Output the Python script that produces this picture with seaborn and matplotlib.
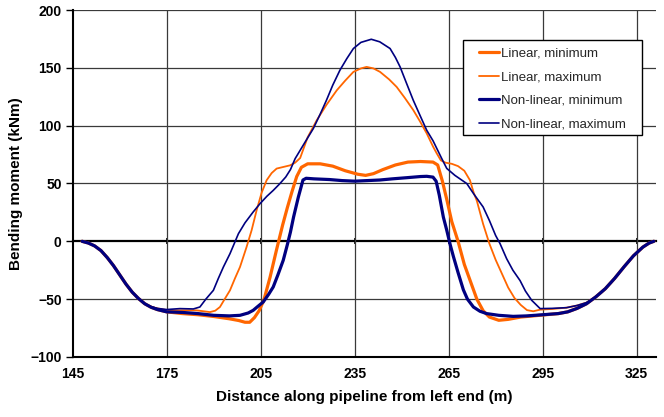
import matplotlib
matplotlib.use("Agg")
import matplotlib.pyplot as plt
from matplotlib.patches import Rectangle
import seaborn as sns

# ---------------- data ----------------
lin_min_x = [148, 150, 152, 154, 156, 158, 160, 162, 164, 166, 168, 170, 172, 175, 180, 185, 190, 195, 198, 200,
             201.5, 203, 204.5, 206, 208, 210, 211, 212, 213.5, 215, 216.5, 218, 220, 224, 228, 232, 236, 238.5, 241, 244,
             248, 252, 256, 260, 261.5, 263, 264.5, 266, 268, 270, 272, 274, 276, 278, 281, 284, 288, 292, 296, 300,
             303, 306, 309, 312, 315, 318, 321, 324, 327, 329, 330.5]
lin_min_y = [0, -1.5, -4, -8, -14, -21, -29, -37, -44, -49.5, -54, -57, -59, -61, -62.5, -63.5, -65, -67, -68.5, -70,
             -70, -66, -60, -51, -31, -8, 3, 14, 29, 43, 56, 64, 67, 67, 65, 61, 58, 57, 58.5, 62,
             66, 68.5, 69, 68.5, 66, 52, 35, 17, 0, -20, -35, -50, -60, -65.5, -68.3, -67.5, -65.5, -64.5, -63.5, -62.5,
             -61, -58, -54, -48, -41, -32, -22, -12.5, -5, -1.5, 0]

lin_max_x = [148, 150, 152, 154, 156, 158, 160, 162, 164, 166, 168, 170, 172, 175, 179, 184.5, 188.8, 190.5, 192, 193.5,
             195.2, 196.8, 198.4, 200.5, 202.1, 203.7, 205.3, 206.9, 208.5, 210.1, 214.4, 216, 217.6, 220, 222.9, 226, 229.3, 232, 234.6, 237,
             238.8, 241, 243.1, 246, 248.4, 251, 253.7, 256, 258, 260, 261.2, 262.5, 264, 266, 268, 270, 271.8, 273, 274, 276,
             278, 280, 282, 284, 286, 288, 290, 292, 294.2, 298, 302.6, 306, 309, 312, 315, 318, 321, 324, 327, 329, 330.5]
lin_max_y = [0, -1.5, -4, -8, -14, -21, -29, -37, -44, -49.5, -54, -56.5, -58, -59.5, -59.7, -59.7, -61.2, -60, -56.8, -50,
             -42.4, -32, -22.2, -4.9, 9.5, 26.8, 42, 52.8, 59, 62.9, 65.7, 68, 72, 90, 104.7, 118, 130.6, 139, 146.5, 149.5,
             150.8, 149.5, 146.5, 140, 133.5, 124, 113.5, 103, 93.3, 82, 76, 70, 68, 67, 65, 61, 52.8, 42, 35, 15,
             -2, -16, -28, -40, -49, -55, -59.5, -60.5, -59.1, -58.5, -57.4, -55.5, -53, -48, -41, -32, -22, -12.5, -5, -1.5, 0]

nl_min_x = [148, 150, 152, 154, 156, 158, 160, 162, 164, 166, 168, 170, 172, 175, 180, 185, 190, 195, 198.4, 201,
            202.6, 204, 205.8, 207.5, 209, 210.5, 212.2, 213.5, 214.5, 215.5, 217, 218.5, 219.5, 222, 227, 231, 235, 239, 243, 247,
            251.6, 256, 258, 260, 261, 262, 263.3, 264.4, 265.5, 266.5, 268, 269.7, 271, 272.9, 275, 277.1, 281, 285.6, 290, 295,
            300, 303, 306, 309, 312, 315, 318, 321, 324, 327, 329, 330.5]
nl_min_y = [0, -1.5, -4, -8, -14, -21, -29, -37, -44, -49.5, -54, -57, -59, -61, -61.5, -62.5, -64, -64.5, -64, -62,
            -59.7, -56.5, -52.5, -46, -39.5, -29, -16.4, -3, 8, 21, 38, 53, 54.5, 54, 53.4, 52.5, 52, 52.5, 53, 54,
            55, 56, 56.2, 55.5, 52, 40, 21, 9.5, -3, -13, -27, -42, -50, -56.8, -60.5, -62.5, -64, -64.9, -64.5, -63.5,
            -62.5, -61, -58, -54, -48, -41, -32, -22, -12.5, -5, -1.5, 0]

nl_max_x = [148, 150, 152, 154, 156, 158, 160, 162, 164, 166, 168, 170, 172, 175, 179.2, 183.5, 185.6, 187.5, 189.9, 191.5,
            193.1, 195.2, 197.9, 200, 202.5, 204.8, 207, 209, 211, 213, 214.5, 216, 219, 221.8, 224, 226, 228, 230.3, 232.5, 234.6,
            237, 240.3, 243, 246.3, 248, 249.5, 251.5, 253.7, 256, 258, 260, 262.8, 264.4, 267, 270.8, 273, 276, 278, 280, 281.4,
            283.5, 285.5, 287.8, 289.5, 291.5, 294.2, 298, 302.6, 306, 309, 312, 315, 318, 321, 324, 327, 329, 330.5]
nl_max_y = [0, -1.5, -4, -8, -14, -21, -29, -37, -44, -49.5, -54, -56.5, -58, -59, -58.2, -58.5, -56.8, -50, -42.4, -32,
            -22.2, -10.7, 6.6, 16, 25, 32.6, 39, 44, 49.5, 55.6, 62, 71.5, 85, 97.5, 110, 122, 135, 148, 158, 166.7,
            172, 174.7, 172.5, 166.7, 159, 150.8, 137, 122, 108, 96, 87, 71.5, 63, 57, 49.9, 41, 29.7, 18, 5, -2,
            -15, -25, -34, -43, -51, -58.2, -58, -57.4, -55.5, -53, -48, -41, -32, -22, -12.5, -5, -1.5, 0]

series_names = ["Linear, minimum", "Linear, maximum", "Non-linear, minimum", "Non-linear, maximum"]
x_ticks = [145, 175, 205, 235, 265, 295, 325]
y_ticks = [-100, -50, 0, 50, 100, 150, 200]
x_label = "Distance along pipeline from left end (m)"
y_label = "Bending moment (kNm)"

# ---------------- style ----------------
sns.set_theme(style="white")
plt.rcParams["font.family"] = ["Liberation Sans", "DejaVu Sans"]

fig = plt.figure(figsize=(6.64, 4.17), dpi=100)
ax = fig.add_axes([0.1095, 0.144, 0.879, 0.832])

orange = "#FF6600"
navy = "#000080"
styles = [(orange, 2.3), (orange, 1.3), (navy, 2.3), (navy, 1.2)]
data = [(lin_min_x, lin_min_y), (lin_max_x, lin_max_y), (nl_min_x, nl_min_y), (nl_max_x, nl_max_y)]

for (xs, ys), name, (c, lw) in zip(data, series_names, styles):
    sns.lineplot(x=xs, y=ys, ax=ax, color=c, linewidth=lw, label=name, sort=False,
                 estimator=None, zorder=5)

ax.set_xlim(145, 331.3)
ax.set_ylim(-100, 200)
ax.set_xticks(x_ticks)
ax.set_yticks(y_ticks)

# gridlines
for yv in y_ticks:
    if yv in (-100, 0):
        continue
    ax.axhline(yv, color="#3a3a3a", lw=0.9, zorder=1)
for xv in x_ticks[1:]:
    ax.axvline(xv, color="#3a3a3a", lw=0.9, zorder=1)

for s in ["top", "right"]:
    ax.spines[s].set_visible(False)
for s in ["left", "bottom"]:
    ax.spines[s].set_color("black")
    ax.spines[s].set_linewidth(1.5)

# zero axis line with small tick marks
sec = ax.secondary_xaxis(1/3)
sec.set_xticks(x_ticks[1:])
sec.tick_params(axis="x", direction="inout", length=5, width=1.2, color="black",
                labelbottom=False, labeltop=False, bottom=True, top=False)
for s in ["bottom", "top"]:
    sec.spines[s].set_linewidth(1.6)
    sec.spines[s].set_color("black")

ax.tick_params(axis="y", direction="out", length=5, width=1.0, color="black", pad=3, left=True)
ax.tick_params(axis="x", length=0, pad=7)
for lab in ax.get_xticklabels() + ax.get_yticklabels():
    lab.set_fontweight("bold")
    lab.set_fontsize(10)
    lab.set_color("black")

ax.set_xlabel(x_label, fontsize=11, fontweight="bold", color="black", labelpad=7)
ax.set_ylabel(y_label, fontsize=11, fontweight="bold", color="black", labelpad=5)

# legend: frame drawn as a rectangle, entries without frame
frame = Rectangle((0.669, 0.640), 0.307, 0.2735, transform=ax.transAxes,
                  facecolor="white", edgecolor="black", linewidth=1.0, zorder=9)
ax.add_patch(frame)
leg = ax.legend(loc="upper left", bbox_to_anchor=(0.688, 0.905), fontsize=9.5,
                frameon=False, handlelength=1.55, handletextpad=0.15, labelspacing=0.86,
                borderpad=0.35, borderaxespad=0)
leg.set_zorder(10)

fig.savefig("out.png", dpi=100)
